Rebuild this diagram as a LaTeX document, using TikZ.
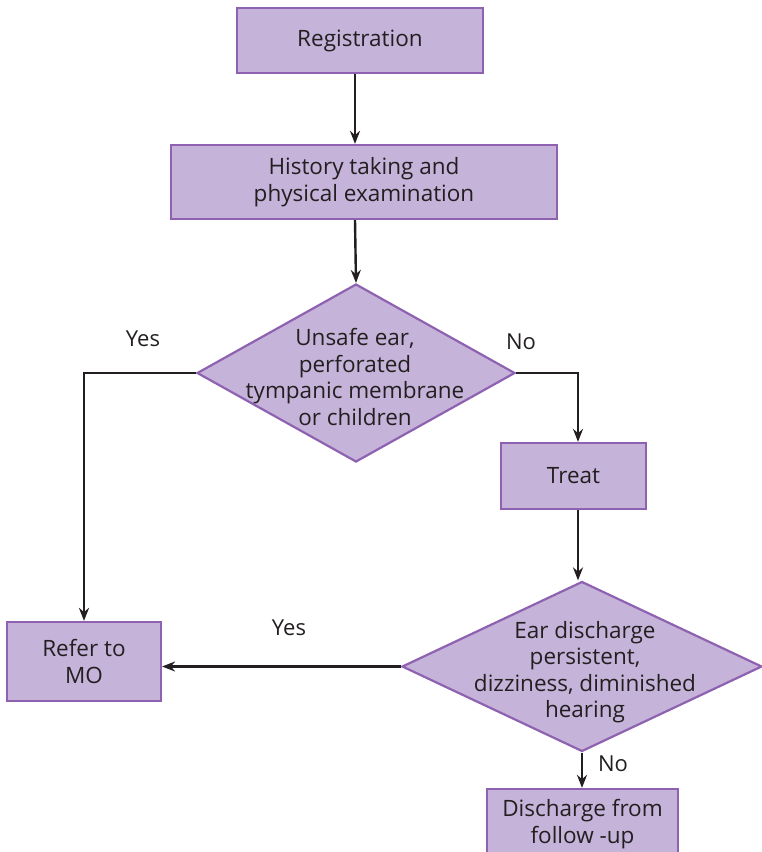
\documentclass[tikz,border=0pt]{standalone}
\usepackage{fontspec}
\setmainfont{Open Sans}
\usetikzlibrary{shapes.geometric,arrows.meta}
\definecolor{boxfill}{HTML}{C5B3D9}
\definecolor{boxline}{HTML}{8E62B0}
\definecolor{txt}{HTML}{231F20}
\tikzset{
  procbox/.style={draw=boxline, fill=boxfill, line width=2.2pt, rectangle, inner sep=0pt,
    align=center, text=txt, font=\fontsize{22.5}{27}\selectfont},
  decbox/.style={draw=boxline, fill=boxfill, line width=2.2pt, diamond, inner sep=0pt},
  dectext/.style={align=center, text=txt, font=\fontsize{22.5}{26.5}\selectfont, inner sep=0pt},
  lbl/.style={text=txt, font=\fontsize{22}{24}\selectfont, inner sep=0pt},
  conn/.style={line width=2.4pt, draw=txt, -{Stealth[length=13pt,width=10pt]}},
}
\begin{document}
\begin{tikzpicture}[x=1pt,y=-1pt]
\useasboundingbox (0,0) rectangle (762,852);
\clip (0,0) rectangle (762,852);
\node[procbox, minimum width=246pt, minimum height=65pt] (reg) at (360,40.5) {Registration};
\node[procbox, minimum width=386pt, minimum height=74pt] (hist) at (364,182) {History taking and\\physical examination};
\node[decbox, minimum width=318pt, minimum height=178pt] (d1) at (356,373) {};
\node[dectext] (d1t) at (355,377) {Unsafe ear,\\perforated\\tympanic membrane\\or children};
\node[procbox, minimum width=145pt, minimum height=66pt] (treat) at (573.5,476) {Treat};
\node[decbox, minimum width=360pt, minimum height=170pt] (d2) at (582,666.5) {};
\node[dectext] (d2t) at (585,672) {Ear discharge\\persistent,\\dizziness, diminished\\hearing};
\node[procbox, minimum width=154pt, minimum height=79pt] (mo) at (84,661.5) {Refer to\\MO};
\node[procbox, minimum width=191pt, minimum height=70pt] (dis) at (582.5,824) {Discharge from\\follow -up};

\coordinate (c1) at (84,373);
\coordinate (c2) at (578,373);
\draw[conn] (reg.south -| 355,0) -- (hist.north -| 355,0);
\draw[conn] (hist.south -| 355,0) -- (d1.north);
\draw[conn] (d1.west) -- (c1) -- (mo.north);
\draw[conn] (d1.east) -- (c2) -- (treat.north -| c2);
\draw[conn] (treat.south -| c2) -- (d2.north -| c2);
\draw[conn] (d2.west) -- (mo.east |- d2.west);
\draw[conn] (d2.south) -- (dis.north -| d2.south);

\node[lbl] (y1) at (143,339) {Yes};
\node[lbl] (n1) at (521,342) {No};
\node[lbl] (y2) at (289,628) {Yes};
\node[lbl] (n2) at (613,764) {No};
\end{tikzpicture}
\end{document}
